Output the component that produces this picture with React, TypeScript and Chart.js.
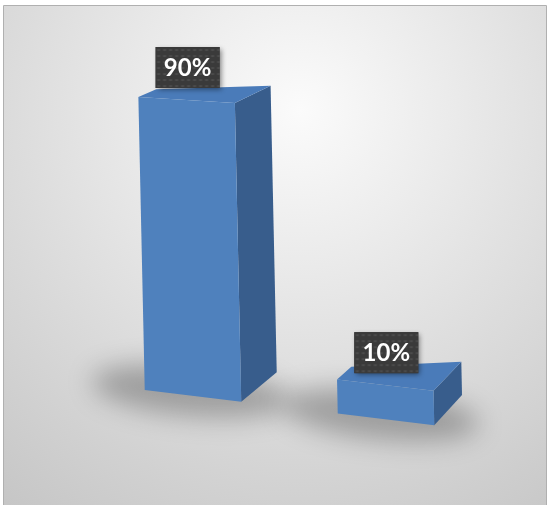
import { useEffect, useRef } from "react";
import { Chart, registerables } from "chart.js";

Chart.register(...registerables);

// ---- data ----
const categories = ["Yes", "No"];
const values = [90, 10];
const valueLabels = ["90%", "10%"];
const yMin = 0;
const yMax = 100;

// ---- 3D projection constants ----
const VANISH = { x: 1128, y: -331 };
const LEAN = 0.022;
const DEPTH_LEFT = 0.018;
const DEPTH_RIGHT = 0.04;
const SLOPE_TOP = 0.0553;
const SLOPE_BASE = 0.122;

const FRONT = "#4f81bd";
const TOP = "#4a7bb9";
const SIDE = "#385d8c";

type Pt = { x: number; y: number };

function projector(chart: any) {
  const area = chart.chartArea;
  const base = chart.scales.y.getPixelForValue(yMin);
  const top = area.top;
  return (u: number, v: number): Pt => {
    const s = SLOPE_TOP + ((SLOPE_BASE - SLOPE_TOP) * (v - top)) / (base - top);
    return { x: u + LEAN * (v - base), y: v + s * (u - area.left) };
  };
}

function depth(p: Pt, t: number): Pt {
  return { x: p.x + t * (VANISH.x - p.x), y: p.y + t * (VANISH.y - p.y) };
}

function poly(ctx: CanvasRenderingContext2D, pts: Pt[], color: string) {
  ctx.beginPath();
  ctx.moveTo(pts[0].x, pts[0].y);
  for (let i = 1; i < pts.length; i++) ctx.lineTo(pts[i].x, pts[i].y);
  ctx.closePath();
  ctx.fillStyle = color;
  ctx.fill();
}

function makePattern(ctx: CanvasRenderingContext2D) {
  const c = document.createElement("canvas");
  c.width = 6;
  c.height = 6;
  const g = c.getContext("2d")!;
  g.fillStyle = "#3a3a3a";
  g.fillRect(0, 0, 6, 6);
  g.fillStyle = "#4b4b4b";
  g.fillRect(2, 2, 2, 2);
  g.fillStyle = "#434343";
  g.fillRect(1, 2, 1, 2);
  g.fillRect(4, 2, 1, 2);
  return ctx.createPattern(c, "repeat");
}

const backgroundPlugin = {
  id: "bgBox",
  beforeDraw(chart: any) {
    const ctx: CanvasRenderingContext2D = chart.ctx;
    ctx.save();
    ctx.fillStyle = "#ffffff";
    ctx.fillRect(0, 0, chart.width, chart.height);
    const g = ctx.createRadialGradient(300, 110, 0, 300, 110, 500);
    g.addColorStop(0, "#fbfbfb");
    g.addColorStop(1, "#c5c5c5");
    ctx.fillStyle = g;
    ctx.fillRect(4, 6, 542, chart.height - 6);
    ctx.strokeStyle = "#b0b0b0";
    ctx.lineWidth = 1;
    ctx.beginPath();
    ctx.moveTo(3.5, chart.height + 2);
    ctx.lineTo(3.5, 5.5);
    ctx.lineTo(546.5, 5.5);
    ctx.lineTo(546.5, chart.height + 2);
    ctx.stroke();
    ctx.restore();
  },
};

const bars3dPlugin = {
  id: "bars3d",
  afterDatasetsDraw(chart: any) {
    const ctx: CanvasRenderingContext2D = chart.ctx;
    const P = projector(chart);
    const meta = chart.getDatasetMeta(0);
    const pattern = makePattern(ctx);
    ctx.save();
    const shapes = meta.data.map((el: any) => {
      const { x, y, base, width } = el.getProps(["x", "y", "base", "width"], true);
      const L = x - width / 2;
      const R = x + width / 2;
      const FTL = P(L, y), FTR = P(R, y), FBR = P(R, base), FBL = P(L, base);
      const BTL = depth(FTL, DEPTH_LEFT), BTR = depth(FTR, DEPTH_RIGHT);
      const BBR = depth(FBR, DEPTH_RIGHT), BBL = depth(FBL, DEPTH_LEFT);
      const topCenter = P(x, y);
      return { FTL, FTR, FBR, FBL, BTL, BTR, BBR, BBL, width, topCenter };
    });

    // floor shadows
    shapes.forEach((s: any) => {
      const cx = (s.FBL.x + s.FBR.x + s.BBR.x + s.BBL.x) / 4 - 16;
      const cy = (s.FBL.y + s.FBR.y + s.BBR.y + s.BBL.y) / 4 + 6;
      ctx.save();
      ctx.filter = "blur(13px)";
      ctx.fillStyle = "rgba(0,0,0,0.27)";
      ctx.beginPath();
      ctx.ellipse(cx, cy, s.width * 1.02, 25, 0.1, 0, Math.PI * 2);
      ctx.fill();
      ctx.restore();
    });

    // bars
    shapes.forEach((s: any) => {
      poly(ctx, [s.FTR, s.BTR, s.BBR, s.FBR], SIDE);
      poly(ctx, [s.FTL, s.FTR, s.BTR, s.BTL], TOP);
      poly(ctx, [s.FTL, s.FTR, s.FBR, s.FBL], FRONT);
    });

    // value labels
    shapes.forEach((s: any, i: number) => {
      const bw = 64, bh = 41;
      const bx = s.topCenter.x + 1 - bw / 2;
      const by = s.topCenter.y - 12 - bh;
      ctx.save();
      ctx.shadowColor = "rgba(0,0,0,0.45)";
      ctx.shadowBlur = 5;
      ctx.shadowOffsetX = 2;
      ctx.shadowOffsetY = 2;
      ctx.fillStyle = "#3a3a3a";
      ctx.fillRect(bx, by, bw, bh);
      ctx.restore();
      ctx.save();
      ctx.fillStyle = pattern || "#3a3a3a";
      ctx.translate(bx, by);
      ctx.fillRect(0, 0, bw, bh);
      ctx.restore();
      ctx.save();
      ctx.fillStyle = "#ffffff";
      ctx.font = "bold 24px Lato, 'DejaVu Sans', sans-serif";
      ctx.textAlign = "center";
      ctx.textBaseline = "middle";
      ctx.fillText(valueLabels[i], bx + bw / 2, by + bh / 2 + 1);
      ctx.restore();
    });
    ctx.restore();
  },
};

export default function App() {
  const ref = useRef<HTMLCanvasElement | null>(null);
  useEffect(() => {
    if (!ref.current) return;
    const chart = new Chart(ref.current, {
      type: "bar",
      data: {
        labels: categories,
        datasets: [
          {
            data: values,
            backgroundColor: "rgba(0,0,0,0)",
            borderWidth: 0,
            barPercentage: 0.5,
            categoryPercentage: 1.0,
          },
        ],
      },
      options: {
        responsive: false,
        animation: false,
        events: [],
        layout: { padding: { left: 96.5, right: 67.5, top: 61.8, bottom: 121 } },
        scales: {
          x: { display: false },
          y: { display: false, min: yMin, max: yMax },
        },
        plugins: { legend: { display: false }, tooltip: { enabled: false } },
      },
      plugins: [backgroundPlugin, bars3dPlugin],
    });
    return () => chart.destroy();
  }, []);
  return (
    <div style={{ position: "fixed", left: 0, top: 0, width: 550, height: 505, overflow: "hidden" }}>
      <canvas ref={ref} width={550} height={505} style={{ display: "block" }} />
    </div>
  );
}
